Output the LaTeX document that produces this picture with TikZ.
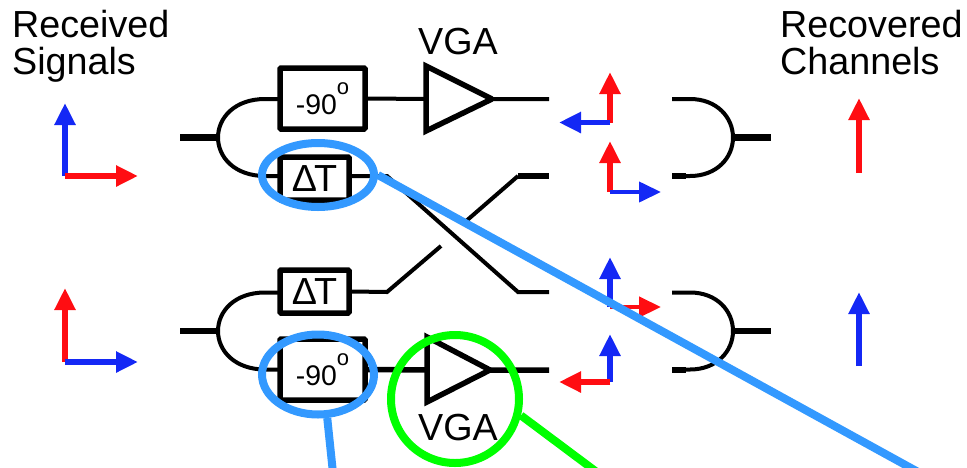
\documentclass[tikz,border=0pt]{standalone}
\usepackage{fontspec}
\setmainfont{Liberation Sans}
\usetikzlibrary{arrows.meta,shapes.geometric}
\definecolor{sigred}{HTML}{FF0D12}
\definecolor{sigblue}{HTML}{1428F5}
\definecolor{ringblue}{HTML}{3399FF}
\definecolor{ringgreen}{HTML}{00FF00}
\tikzset{
  bigtxt/.style={font=\fontsize{37.7}{37}\selectfont, inner sep=0pt},
  unitbox/.style={draw, line width=5.5pt, rounded corners=1pt, inner sep=0pt, fill=white},
  phasebox/.style={unitbox, minimum width=85pt, minimum height=61pt, font=\fontsize{28.4}{30}\selectfont},
  delaybox/.style={unitbox, minimum width=69pt, minimum height=43pt, font=\fontsize{37.7}{39}\selectfont},
  thinw/.style={line width=4pt},
  thickw/.style={line width=6.5pt},
  sig/.style={line width=#1, -{Triangle[length=22pt,width=20pt]}},
  sig/.default=6pt,
  ringb/.style={draw=ringblue, line width=8pt, ellipse, inner sep=0pt},
}
\newcommand{\nineo}{-90\raisebox{20pt}{\fontsize{22}{22}\selectfont o}}
\newcommand{\delayT}{Δ\kern-3pt T\hspace{5pt}}
\begin{document}
\begin{tikzpicture}[x=1pt, y=-1pt]
\clip (0,0) rectangle (967,467);
% labels
\node[bigtxt, align=left, anchor=north west] (rxlabel) at (12,10) {Received\\Signals};
\node[bigtxt, align=left, anchor=north west] (outlabel) at (780,10) {Recovered\\Channels};
\node[bigtxt, anchor=base] (vgaup) at (458,54.5) {VGA};
\node[bigtxt, anchor=base] (vgalow) at (458,440) {VGA};
% boxes
\node[phasebox] (ph1) at (322.5,98.5) {\nineo};
\node[delaybox] (dt1) at (314.5,178.5) {\delayT};
\node[delaybox] (dt2) at (314.5,291.5) {\delayT};
\node[phasebox] (ph2) at (322.5,369.5) {\nineo};
% amplifiers
\coordinate (a1w) at (426,99);
\coordinate (a1e) at (492,99);
\coordinate (a2w) at (427,370);
\coordinate (a2e) at (490,370);
\draw[line width=5.5pt, miter limit=2] (426,66)--(a1e)--(426,131)--cycle;
\draw[line width=5.5pt, miter limit=2] (427,337)--(a2e)--(427,402)--cycle;
% splitters and combiners
\foreach \nm/\yy in {s1/137.5, s2/331}{
  \coordinate (\nm) at (217,\yy);
  \coordinate (\nm in) at (180,\yy);
  \draw[thickw] (\nm in)--(\nm);
  \draw[thinw] (280,\yy-38.5)--(265,\yy-38.5) .. controls (235,\yy-38.5) and (218,\yy-20) .. (218,\yy)
    .. controls (218,\yy+20) and (235,\yy+38.5) .. (265,\yy+38.5)--(280,\yy+38.5);
}
\foreach \nm/\yy in {c1/137.5, c2/331}{
  \coordinate (\nm) at (734,\yy);
  \coordinate (\nm out) at (771,\yy);
  \draw[thickw] (\nm)--(\nm out);
  \draw[thinw] (672,\yy-38.5)--(690,\yy-38.5) .. controls (717,\yy-38.5) and (733,\yy-20) .. (733,\yy)
    .. controls (733,\yy+20) and (717,\yy+38.5) .. (690,\yy+38.5)--(672,\yy+38.5);
  \draw[line width=6pt] (672,\yy+38.5)--(686,\yy+38.5);
}
% signal paths
\coordinate (o1) at (549,99);
\coordinate (o2) at (549,176);
\coordinate (o3) at (549,292);
\coordinate (o4) at (549,370);
\draw[thinw] (ph1.east)--(a1w) (a1e)--(o1);
\draw[line width=5.5pt] (ph2.east)--(a2w) (a2e)--(o4);
\draw[thinw] (dt1.east|-0,176)--(387,176)--(518,292)--(o3);
\draw[thinw] (dt2.east)--(387,292)--(441,246);
\draw[thinw] (465,222)--(518,176);
\draw[line width=5.5pt] (518,176)--(o2);
% polarisation arrows
\foreach \xx/\yy/\ux/\uy/\vx/\vy/\cu/\cv/\wv in {
  65/176/65/103/138/176/sigblue/sigred/6pt,
  65/362/65/288/138/362/sigred/sigblue/6pt,
  610/122.5/610/72/559/122.5/sigred/sigblue/5.5pt,
  610/192/610/141/661/192/sigred/sigblue/4pt,
  610/307/610/257/661/307/sigblue/sigred/4.5pt,
  610/382/610/334/559/382/sigblue/sigred/5.5pt}{
  \draw[sig, \cu] (\xx,\yy)--(\ux,\uy);
  \draw[sig=\wv, \cv] (\xx,\yy)--(\vx,\vy);
}
\draw[sig, sigred] (859,173)--(859,98);
\draw[sig, sigblue] (859,366)--(859,292);
% highlight rings
\node[ringb, minimum width=112pt, minimum height=64pt] (ring1) at (318,175) {};
\node[ringb, minimum width=112pt, minimum height=80pt] (ring2) at (318,374.5) {};
\node[draw=ringgreen, line width=8pt, circle, inner sep=0pt, minimum size=128pt] (ring3) at (455,399) {};
\coordinate (zoom1) at (920,473);
\coordinate (zoom2) at (333,473);
\coordinate (zoom3) at (598,473);
\draw[ringblue, line width=8pt] (ring1.east)--(zoom1);
\draw[ringblue, line width=8pt] (ring2.-78)--(zoom2);
\draw[ringgreen, line width=8pt] (ring3.-14)--(zoom3);
\end{tikzpicture}
\end{document}
